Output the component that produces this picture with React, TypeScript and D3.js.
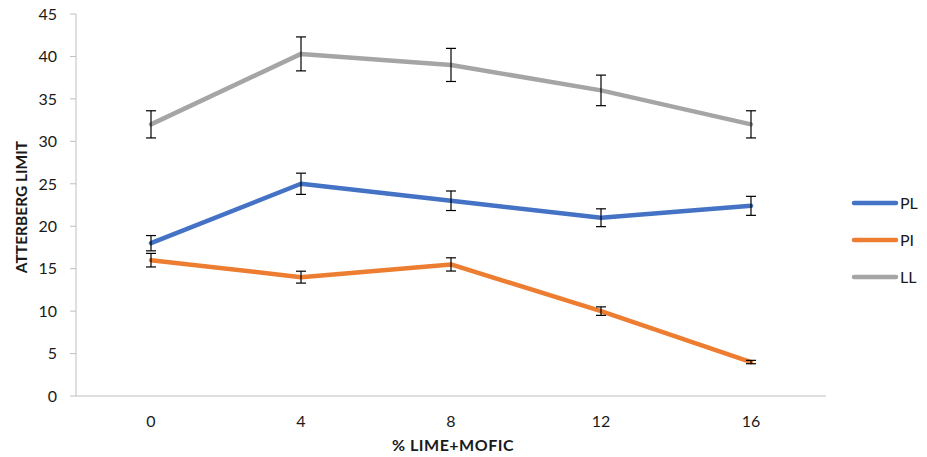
import React from 'react';
import * as d3 from 'd3';

// % lime+mofic and the three Atterberg limits
const dosage = ['0', '4', '8', '12', '16'];
const plValues = [18, 25, 23, 21, 22.4];
const piValues = [16, 14, 15.5, 10, 4];
const llValues = [32, 40.3, 39, 36, 32];
const plErrors = [0.9, 1.25, 1.15, 1.05, 1.12];
const piErrors = [0.8, 0.7, 0.78, 0.5, 0.2];
const llErrors = [1.6, 2.0, 1.95, 1.8, 1.6];
const yTicks = [0, 5, 10, 15, 20, 25, 30, 35, 40, 45];

const series = [
    { name: 'PL', values: plValues, errors: plErrors, color: '#4472C4' },
    { name: 'PI', values: piValues, errors: piErrors, color: '#ED7D31' },
    { name: 'LL', values: llValues, errors: llErrors, color: '#A5A5A5' }
];

const config = {
    width: 927,
    height: 457,
    left: 76,
    right: 826,
    top: 14,
    bottom: 396,
    font: 'Lato, "Liberation Sans", sans-serif',
    textColor: '#1a1a1a'
};

export default function App() {
    const { width, height, left, right, top, bottom, font, textColor } = config;

    const x = d3.scaleBand<string>().domain(dosage).range([left, right]);
    const y = d3.scaleLinear().domain([0, 45]).range([bottom, top]);
    const cx = (d: string) => (x(d) as number) + x.bandwidth() / 2;

    const line = d3.line<number>()
        .x((_, i) => cx(dosage[i]))
        .y(v => y(v));

    return (
        <svg width={width} height={height}
             style={{ position: 'absolute', left: 0, top: 0, fontFamily: font }}>
            <rect width={width} height={height} fill="#fff"/>

            {/* y axis */}
            <line x1={left} x2={left} y1={top} y2={bottom} stroke="#BFBFBF" strokeWidth={1}/>
            {yTicks.map(t => (
                <g key={t}>
                    <line x1={left - 6} x2={left} y1={y(t)} y2={y(t)} stroke="#BFBFBF"/>
                    <text x={left - 19} y={y(t)} dy="0.36em" textAnchor="end"
                          fontSize={16} fill={textColor}>{t}</text>
                </g>
            ))}
            <text transform={`translate(27,${(top + bottom) / 2 + 2}) rotate(-90)`} textAnchor="middle"
                  fontSize={15.5} fontWeight="bold" fill={textColor}>ATTERBERG LIMIT</text>

            {/* x axis */}
            <line x1={left} x2={right} y1={bottom} y2={bottom} stroke="#BFBFBF"/>
            {dosage.map(d => (
                <text key={d} x={cx(d)} y={427} textAnchor="middle"
                      fontSize={16} fill={textColor}>{d}</text>
            ))}
            <text x={(left + right) / 2 + 2} y={451} textAnchor="middle" letterSpacing={0.5}
                  fontSize={16} fontWeight="bold" fill={textColor}>% LIME+MOFIC</text>

            {/* lines */}
            {series.map(s => (
                <path key={s.name} d={line(s.values) || ''} fill="none" stroke={s.color}
                      strokeWidth={4.5} strokeLinejoin="round" strokeLinecap="round"/>
            ))}

            {/* error bars */}
            {series.map(s => s.values.map((v, i) => {
                const px = cx(dosage[i]);
                const y1 = y(v + s.errors[i]);
                const y2 = y(v - s.errors[i]);
                return (
                    <g key={s.name + i} stroke="#000" strokeWidth={1.2}>
                        <line x1={px} x2={px} y1={y1} y2={y2}/>
                        <line x1={px - 5} x2={px + 5} y1={y1} y2={y1}/>
                        <line x1={px - 5} x2={px + 5} y1={y2} y2={y2}/>
                    </g>
                );
            }))}

            {/* legend */}
            {series.map((s, i) => (
                <g key={s.name} transform={`translate(854,${203 + i * 37})`}>
                    <line x1={0} x2={42} y1={0} y2={0} stroke={s.color} strokeWidth={4.5} strokeLinecap="round"/>
                    <text x={46} y={0} dy="0.36em" fontSize={16} fill={textColor}>{s.name}</text>
                </g>
            ))}
        </svg>
    );
}
